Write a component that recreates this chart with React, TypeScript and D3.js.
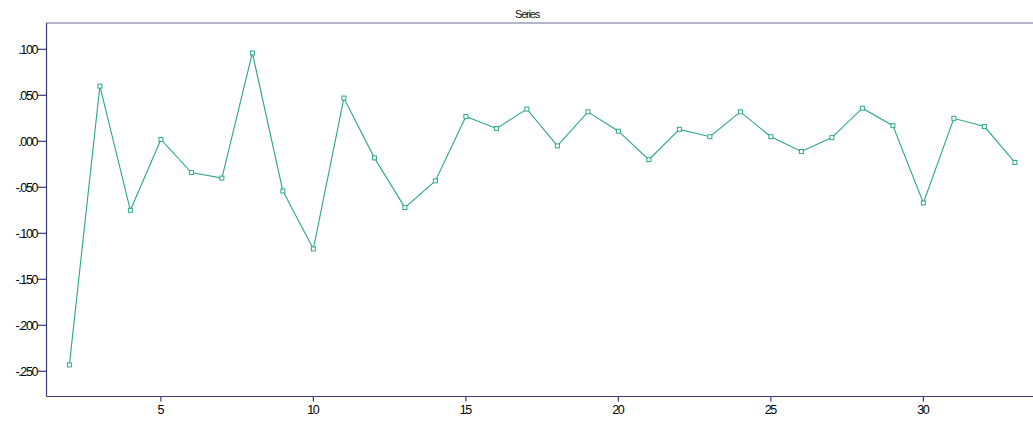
import React from "react";
import * as d3 from "d3";

const xValues: number[] = [2,3,4,5,6,7,8,9,10,11,12,13,14,15,16,17,18,19,20,21,22,23,24,25,26,27,28,29,30,31,32,33];
const seriesValues: number[] = [
  -0.243, 0.060, -0.075, 0.002, -0.034, -0.040, 0.096, -0.054, -0.117, 0.047,
  -0.018, -0.072, -0.043, 0.027, 0.014, 0.035, -0.005, 0.032, 0.011, -0.020,
  0.013, 0.005, 0.032, 0.005, -0.011, 0.004, 0.036, 0.017, -0.067, 0.025,
  0.016, -0.023,
];
const yTicks: number[] = [0.1, 0.05, 0, -0.05, -0.1, -0.15, -0.2, -0.25];
const xTicks: number[] = [5, 10, 15, 20, 25, 30];
const title = "Series";

const W = 1033, H = 421;
const left = 46.5, right = 1033, top = 23, bottom = 396.5;

function fmtY(v: number): string {
  const s = Math.abs(v).toFixed(3).replace(/^0/, "");
  return (v < 0 ? "-" : "") + s;
}

export default function App() {
  const x = d3.scaleLinear().domain([1.25, 1.25 + (right - left) / 30.5]).range([left, right]);
  const y = d3.scaleLinear().domain([-0.2774, 0.1286]).range([bottom, top]);
  const pts: [number, number][] = xValues.map((v, i) => [x(v), y(seriesValues[i])]);
  const line = d3.line()(pts) || "";
  const axisColor = "#3a3a80";
  const font = "'Liberation Sans', Arial, sans-serif";
  const teal = "#2aa68a";
  return (
    <svg width={W} height={H} style={{ position: "absolute", left: 0, top: 0, background: "#fff" }}>
      <text x={527} y={17.5} textAnchor="middle" fontFamily={font} fontSize={11} letterSpacing={-1.2} fill="#111">{title}</text>
      <line x1={left} x2={right} y1={top} y2={top} stroke="#9b9bb8" strokeWidth={1.3} />
      <line x1={left} x2={left} y1={top} y2={bottom} stroke={axisColor} strokeWidth={1.2} />
      <line x1={left} x2={right} y1={bottom} y2={bottom} stroke={axisColor} strokeWidth={1.2} />
      {yTicks.map((t) => (
        <g key={"y" + t}>
          <line x1={left - 9} x2={left} y1={y(t)} y2={y(t)} stroke={axisColor} strokeWidth={1.2} />
          <text x={37} y={y(t) + 4.3} textAnchor="end" fontFamily={font} fontSize={12.5} letterSpacing={-1.4} fill="#000">{fmtY(t)}</text>
        </g>
      ))}
      {xTicks.map((t) => (
        <g key={"x" + t}>
          <line x1={x(t)} x2={x(t)} y1={bottom} y2={bottom + 5} stroke={axisColor} strokeWidth={1.2} />
          <text x={x(t) - 0.5} y={413.5} textAnchor="middle" fontFamily={font} fontSize={12.5} letterSpacing={-1.4} fill="#000">{String(t)}</text>
        </g>
      ))}
      <path d={line} fill="none" stroke={teal} strokeWidth={1.1} />
      {pts.map(([px, py], i) => (
        <rect key={i} x={px - 2} y={py - 2} width={4} height={4} fill="#fff" stroke={teal} strokeWidth={1} />
      ))}
    </svg>
  );
}
